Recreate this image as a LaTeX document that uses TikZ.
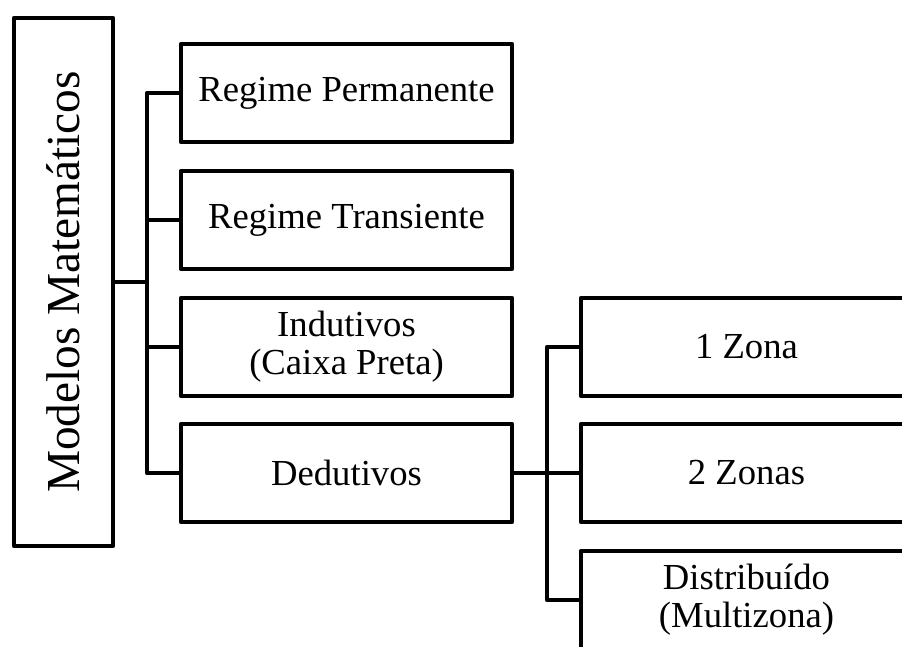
\documentclass[tikz,border=0pt]{standalone}
\usepackage{fontspec}
\setmainfont{Liberation Serif}
\begin{document}
\begin{tikzpicture}[x=0.75pt,y=-0.75pt,
  box/.style={draw, line width=3.2pt, line join=round, inner sep=0pt,
    minimum width=248.25pt, minimum height=73.5pt, align=center,
    font=\fontsize{27.5}{28.5}\selectfont},
  link/.style={line width=3.2pt, line join=round}]
\useasboundingbox (0,0) rectangle (902,646);
\clip (0,0) rectangle (902,646);

% root box, text running upwards
\node[draw, line width=3.2pt, line join=round, inner sep=0pt, rotate=90,
  minimum width=396pt, minimum height=74.25pt,
  font=\fontsize{35.5}{40}\selectfont] (root) at (63.5,282) {Modelos Matemáticos};

% first level
\node[box] (c1) at (346.5,93)  {Regime Permanente};
\node[box] (c2) at (346.5,220) {Regime Transiente};
\node[box] (c3) at (346.5,347) {Indutivos\\(Caixa Preta)};
\node[box] (c4) at (346.5,473) {Dedutivos};

% second level
\node[box] (d1) at (746.5,347) {1 Zona};
\node[box] (d2) at (746.5,473) {2 Zonas};
\node[box] (d3) at (746.5,600) {Distribuído\\(Multizona)};

\coordinate (busL) at (147,0);
\coordinate (busR) at (547,0);

% root tree
\draw[link] (root.south) -- (root.south -| busL);
\draw[link] (c1.west) -- (busL |- c1.west) -- (busL |- c4.west) -- (c4.west);
\draw[link] (busL |- c2.west) -- (c2.west);
\draw[link] (busL |- c3.west) -- (c3.west);

% deductive tree
\draw[link] (c4.east) -- (d2.west);
\draw[link] (d1.west) -- (busR |- d1.west) -- (busR |- d3.west) -- (d3.west);
\end{tikzpicture}
\end{document}
